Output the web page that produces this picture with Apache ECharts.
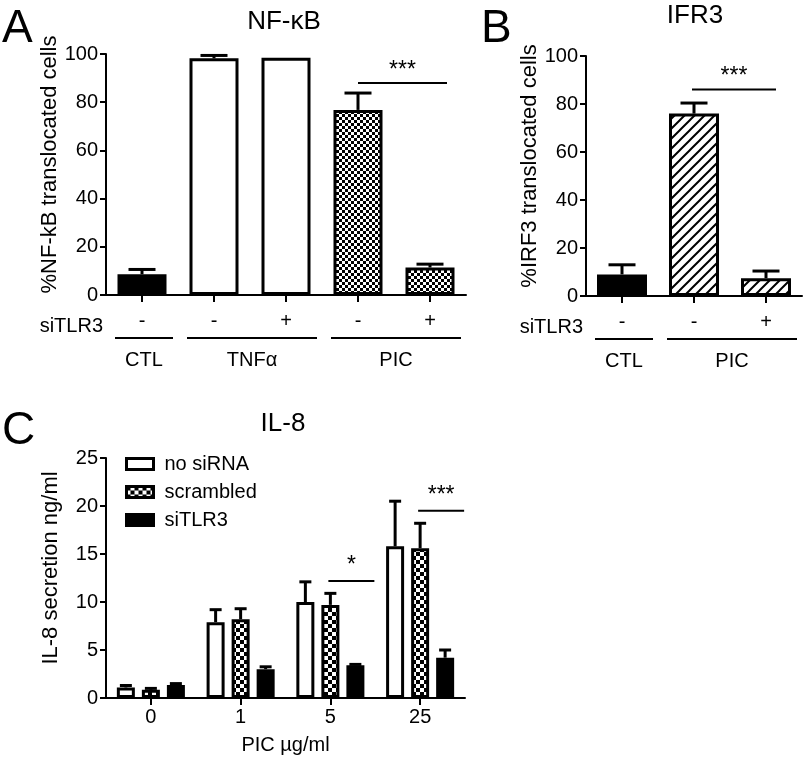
<!DOCTYPE html>
<html><head><meta charset="utf-8">
<script src="https://cdn.jsdelivr.net/npm/echarts@6/dist/echarts.min.js"></script>
<style>html,body{margin:0;padding:0;background:#fff}#c{width:804px;height:760px}</style>
</head><body><div id="c"></div>
<script>
// ---------- Panel A: NF-κB ----------
const aCategories = ['CTL', 'TNFα', 'TNFα', 'PIC', 'PIC'];
const aSiTLR3 = ['-', '-', '+', '-', '+'];
const aValues = [8.6, 98.2, 98.4, 76.8, 11.4];
const aErrors = [2.0, 1.2, 0, 7.0, 1.4];
const aFill = ['solid', 'open', 'open', 'check', 'check'];
const aGroups = ['CTL', 'TNFα', 'PIC'];
const aGroupFrom = [0, 1, 3];
const aGroupTo = [0, 2, 4];
const aYTicks = [0, 20, 40, 60, 80, 100];
const aSigFrom = [3], aSigTo = [4], aSigLevel = [88], aSigLabel = ['***'];

// ---------- Panel B: IFR3 ----------
const bCategories = ['CTL', 'PIC', 'PIC'];
const bSiTLR3 = ['-', '-', '+'];
const bValues = [9.0, 76.0, 7.4];
const bErrors = [4.0, 4.4, 3.0];
const bFill = ['solid', 'hatch', 'hatch'];
const bGroups = ['CTL', 'PIC'];
const bGroupFrom = [0, 1];
const bGroupTo = [0, 2];
const bYTicks = [0, 20, 40, 60, 80, 100];
const bSigFrom = [1], bSigTo = [2], bSigLevel = [86], bSigLabel = ['***'];

// ---------- Panel C: IL-8 ----------
const cCategories = ['0', '1', '5', '25'];
const cSeriesNames = ['no siRNA', 'scrambled', 'siTLR3'];
const cNoSiRNA = [1.1, 7.9, 10.0, 15.8];
const cNoSiRNAErr = [0.2, 1.3, 2.1, 4.7];
const cScrambled = [0.85, 8.2, 9.7, 15.6];
const cScrambledErr = [0.15, 1.1, 1.2, 2.6];
const cSiTLR3 = [1.35, 3.0, 3.4, 4.2];
const cSiTLR3Err = [0.15, 0.25, 0.1, 0.8];
const cYTicks = [0, 5, 10, 15, 20, 25];
const cSigFrom = [2, 3], cSigLevel = [12.2, 19.5], cSigLabel = ['*', '***'];

const FONT = "'Liberation Sans', Arial, Helvetica, sans-serif";
const INK = '#000';

function checker(cell) {
  const c = document.createElement('canvas'); c.width = c.height = cell * 2;
  const g = c.getContext('2d');
  g.fillStyle = '#fff'; g.fillRect(0, 0, cell * 2, cell * 2);
  g.fillStyle = '#000'; g.fillRect(0, 0, cell, cell); g.fillRect(cell, cell, cell, cell);
  return c;
}
function hatch(s) {
  const c = document.createElement('canvas'); c.width = c.height = s;
  const g = c.getContext('2d');
  g.fillStyle = '#fff'; g.fillRect(0, 0, s, s);
  g.strokeStyle = '#000'; g.lineWidth = 2; g.beginPath();
  g.moveTo(-2, s + 2); g.lineTo(s + 2, -2);
  g.moveTo(-2, 2); g.lineTo(2, -2);
  g.moveTo(s - 2, s + 2); g.lineTo(s + 2, s - 2);
  g.stroke();
  return c;
}
const fills = {
  solid: '#000', open: '#fff',
  check: { image: checker(3), repeat: 'repeat' },
  hatch: { image: hatch(10), repeat: 'repeat' }
};
const checkC = { image: checker(4), repeat: 'repeat' };

const axisLine = { show: true, onZero: false, lineStyle: { color: INK, width: 2 } };
function yAxis(grid, ticks, name) {
  return {
    type: 'value', gridIndex: grid, min: ticks[0], max: ticks[ticks.length - 1],
    interval: ticks[1] - ticks[0], axisLine,
    axisTick: { show: true, length: 6, lineStyle: { color: INK, width: 2 } },
    axisLabel: { fontSize: 20, color: INK, margin: 8, fontFamily: FONT },
    splitLine: { show: false },
    name, nameLocation: 'middle', nameGap: 44,
    nameTextStyle: { fontSize: 22, color: INK, fontFamily: FONT, padding: [0, 0, 0, 20] }
  };
}
function xAxis(grid, cats, labels, margin, extra) {
  return Object.assign({
    type: 'category', gridIndex: grid, data: cats.map((c, i) => c + '|' + labels[i] + '|' + i),
    axisLine,
    axisTick: { show: true, alignWithLabel: true, length: 7, lineStyle: { color: INK, width: 2 } },
    axisLabel: { fontSize: 20, color: INK, margin, fontFamily: FONT, formatter: (v, i) => labels[i] }
  }, extra || {});
}

function errorSeries(xi, means, errs, offsetPx, capW) {
  return {
    type: 'custom', xAxisIndex: xi, yAxisIndex: xi, z: 5, silent: true,
    data: means.map((m, i) => [i, m, errs[i]]),
    renderItem(params, api) {
      const i = api.value(0), m = api.value(1), e = api.value(2);
      if (!e) return null;
      const p0 = api.coord([i, m]), p1 = api.coord([i, m + e]);
      const x = p0[0] + offsetPx;
      return { type: 'group', children: [
        { type: 'line', shape: { x1: x, y1: p0[1], x2: x, y2: p1[1] }, style: { stroke: INK, lineWidth: 3 } },
        { type: 'line', shape: { x1: x - capW / 2, y1: p1[1], x2: x + capW / 2, y2: p1[1] }, style: { stroke: INK, lineWidth: 3 } }
      ]};
    }
  };
}
function sigSeries(xi, from, to, level, label, startOff, endOff, starGap) {
  return {
    type: 'custom', xAxisIndex: xi, yAxisIndex: xi, z: 6, silent: true,
    data: from.map((f, i) => [f, level[i], to[i]]),
    renderItem(params, api) {
      const idx = params.dataIndex;
      const a = api.coord([api.value(0), api.value(1)]);
      const b = api.coord([api.value(2), api.value(1)]);
      const x1 = a[0] + startOff, x2 = b[0] + endOff;
      return { type: 'group', children: [
        { type: 'line', shape: { x1, y1: a[1], x2, y2: a[1] }, style: { stroke: INK, lineWidth: 2 } },
        { type: 'text', style: { text: label[idx], x: (x1 + x2) / 2, y: a[1] - starGap, align: 'center', verticalAlign: 'bottom', font: '23px ' + FONT, fill: INK } }
      ]};
    }
  };
}

const chart = echarts.init(document.getElementById('c'));
const barBase = { borderColor: INK, borderWidth: 3 };

chart.setOption({
  animation: false,
  textStyle: { fontFamily: FONT },
  grid: [
    { left: 106, top: 54, width: 360, height: 241 },
    { left: 586, top: 56, width: 216, height: 240 },
    { left: 106, top: 458, width: 359, height: 240 }
  ],
  xAxis: [
    xAxis(0, aCategories, aSiTLR3, 16),
    xAxis(1, bCategories, bSiTLR3, 16),
    Object.assign(xAxis(2, cCategories, cCategories, 9), {
      name: 'PIC µg/ml', nameLocation: 'middle', nameGap: 37,
      nameTextStyle: { fontSize: 20, color: INK, fontFamily: FONT }
    })
  ],
  yAxis: [
    yAxis(0, aYTicks, '%NF-kB translocated cells'),
    yAxis(1, bYTicks, '%IRF3 translocated cells'),
    yAxis(2, cYTicks, 'IL-8 secretion ng/ml')
  ],
  legend: {
    left: 120, top: 449, orient: 'vertical', itemWidth: 27, itemHeight: 11, itemGap: 8,
    icon: 'rect', selectedMode: false, data: cSeriesNames,
    itemStyle: { borderColor: INK, borderWidth: 3 },
    textStyle: { fontSize: 20, color: INK, fontFamily: FONT, padding: [0, 0, 0, 6] }
  },
  series: [
    { type: 'bar', xAxisIndex: 0, yAxisIndex: 0, barWidth: 49, itemStyle: barBase,
      data: aValues.map((v, i) => ({ value: v, itemStyle: { color: fills[aFill[i]] } })) },
    errorSeries(0, aValues, aErrors, 0, 27),
    sigSeries(0, aSigFrom, aSigTo, aSigLevel, aSigLabel, 0, 17, 1),
    { type: 'bar', xAxisIndex: 1, yAxisIndex: 1, barWidth: 50, itemStyle: barBase,
      data: bValues.map((v, i) => ({ value: v, itemStyle: { color: fills[bFill[i]] } })) },
    errorSeries(1, bValues, bErrors, 0, 27),
    sigSeries(1, bSigFrom, bSigTo, bSigLevel, bSigLabel, -2, 10, 1),
    { name: cSeriesNames[0], type: 'bar', xAxisIndex: 2, yAxisIndex: 2, barWidth: 18, barGap: '39%',
      itemStyle: Object.assign({ color: '#fff' }, barBase), data: cNoSiRNA },
    { name: cSeriesNames[1], type: 'bar', xAxisIndex: 2, yAxisIndex: 2, barWidth: 18, barGap: '39%',
      itemStyle: Object.assign({ color: checkC }, barBase), data: cScrambled },
    { name: cSeriesNames[2], type: 'bar', xAxisIndex: 2, yAxisIndex: 2, barWidth: 18, barGap: '39%',
      itemStyle: Object.assign({ color: '#000' }, barBase), data: cSiTLR3 },
    errorSeries(2, cNoSiRNA, cNoSiRNAErr, -25, 12),
    errorSeries(2, cScrambled, cScrambledErr, 0, 12),
    errorSeries(2, cSiTLR3, cSiTLR3Err, 25, 12),
    sigSeries(2, cSigFrom, cSigFrom, cSigLevel, cSigLabel, -2, 44, 4)
  ]
});

// Group annotation rows below panels A and B, positioned from the axes
const g = [];
function groupRow(xi, groups, from, to) {
  const y0 = chart.convertToPixel({ yAxisIndex: xi }, 0);
  const axisX = chart.convertToPixel({ xAxisIndex: xi }, 0) - 36;
  g.push({ type: 'text', x: axisX - 3, y: y0 + 31,
    style: { text: 'siTLR3', font: '20px ' + FONT, fill: INK, align: 'right', verticalAlign: 'middle' } });
  groups.forEach((name, k) => {
    const xa = chart.convertToPixel({ xAxisIndex: xi }, from[k]) - 27;
    const xb = chart.convertToPixel({ xAxisIndex: xi }, to[k]) + 31;
    g.push({ type: 'line', shape: { x1: xa, y1: y0 + 43, x2: xb, y2: y0 + 43 }, style: { stroke: INK, lineWidth: 2 } });
    g.push({ type: 'text', x: (xa + xb) / 2, y: y0 + 65,
      style: { text: name, font: '20px ' + FONT, fill: INK, align: 'center', verticalAlign: 'middle' } });
  });
}
groupRow(0, aGroups, aGroupFrom, aGroupTo);
groupRow(1, bGroups, bGroupFrom, bGroupTo);

const titles = [['NF-κB', 284, 22], ['IFR3', 695, 16], ['IL-8', 283, 424]];
titles.forEach(t => g.push({ type: 'text', x: t[1], y: t[2],
  style: { text: t[0], font: '26px ' + FONT, fill: INK, align: 'center', verticalAlign: 'middle' } }));
const letters = [['A', 2, 29], ['B', 481, 29], ['C', 2, 431]];
letters.forEach(t => g.push({ type: 'text', x: t[1], y: t[2],
  style: { text: t[0], font: '46px ' + FONT, fill: INK, align: 'left', verticalAlign: 'middle' } }));

chart.setOption({ graphic: g });
</script>
</body></html>
